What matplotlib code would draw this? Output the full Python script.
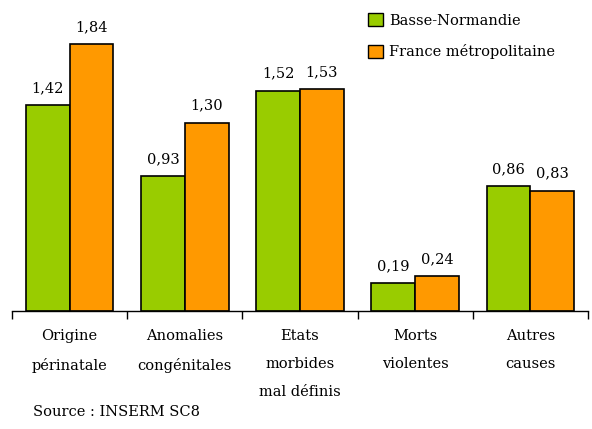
import matplotlib.pyplot as plt
import numpy as np
from matplotlib.patches import Patch

categories = ["Origine\npérinatale", "Anomalies\ncongénitales", "Etats\nmorbides\nmal définis",
              "Morts\nviolentes", "Autres\ncauses"]
basse_normandie = [1.42, 0.93, 1.52, 0.19, 0.86]
france = [1.84, 1.30, 1.53, 0.24, 0.83]
series_names = ["Basse-Normandie", "France métropolitaine"]

green = "#99cc00"
orange = "#ff9900"

plt.rcParams['font.family'] = ['DejaVu Serif']
fs = 10.5

fig = plt.figure(figsize=(5.92, 4.29), dpi=100)
ax = fig.add_axes([0.0203, 0.275, 0.973, 0.676])

x = np.arange(len(categories))
w = 0.38
b1 = ax.bar(x - w / 2, basse_normandie, w, color=green, edgecolor="black", linewidth=1.2)
b2 = ax.bar(x + w / 2, france, w, color=orange, edgecolor="black", linewidth=1.2)

# value labels with comma decimal
for bars, vals in ((b1, basse_normandie), (b2, france)):
    for bar, v in zip(bars, vals):
        ax.text(bar.get_x() + bar.get_width() / 2, v + 0.07, f"{v:.2f}".replace(".", ","),
                ha="center", va="bottom", fontsize=fs)

ax.set_xlim(-0.5, len(categories) - 0.5)
ax.set_ylim(0, 2.0)
for s in ("top", "right", "left"):
    ax.spines[s].set_visible(False)
ax.spines["bottom"].set_linewidth(1)
ax.set_yticks([])

# tick marks between groups, labels centred under groups
ax.set_xticks(np.arange(len(categories) + 1) - 0.5)
ax.set_xticklabels([])
ax.tick_params(axis="x", direction="out", length=6, width=1)
for i, c in enumerate(categories):
    ax.text(i, -0.125, c, ha="center", va="top", fontsize=fs, linespacing=2.25)

handles = [Patch(facecolor=green, edgecolor="black"), Patch(facecolor=orange, edgecolor="black")]
fig.legend(handles, series_names, loc="upper left", bbox_to_anchor=(0.6, 1.0), frameon=False,
           fontsize=fs, handlelength=1.0, handleheight=1.0, handletextpad=0.4, labelspacing=1.15)

fig.text(0.056, 0.04, "Source : INSERM SC8", fontsize=fs, ha="left", va="center")

fig.savefig("out.png", dpi=100)
